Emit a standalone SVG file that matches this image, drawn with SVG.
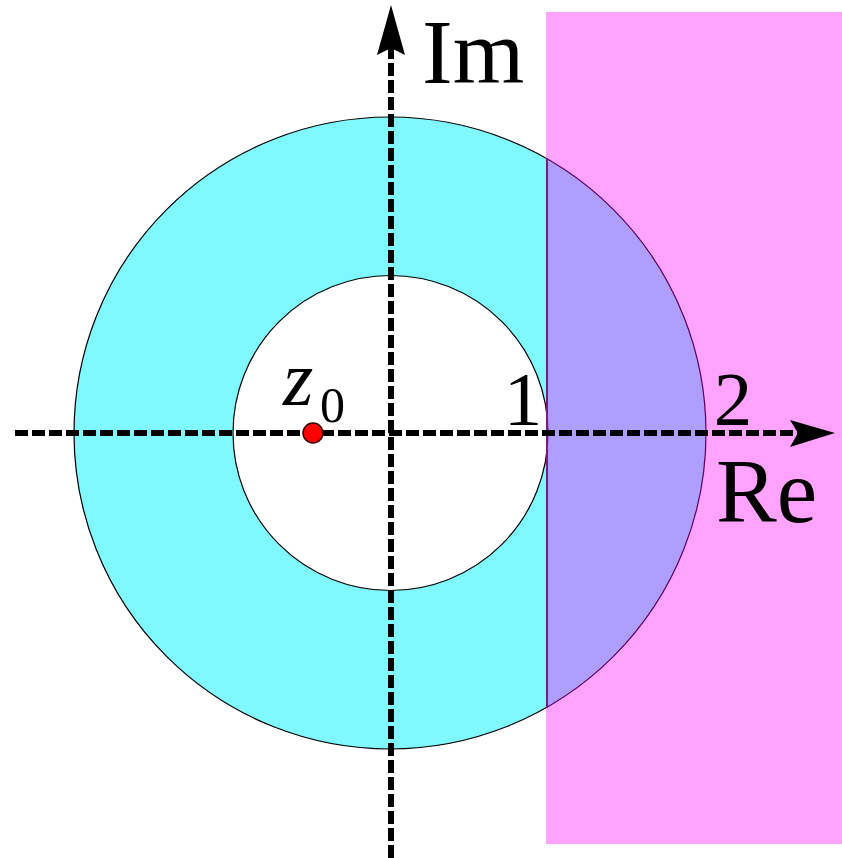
<svg xmlns="http://www.w3.org/2000/svg" width="842" height="858" viewBox="0 0 842 858">
<style>
.lbl{font-family:"Liberation Serif","Times New Roman",serif;fill:#000}
.axis{stroke:#000;stroke-width:6;fill:none}
</style>
<rect x="0" y="0" width="842" height="858" fill="#fff"/>
<g id="outer-circle"><circle cx="390" cy="433" r="316" fill="#80f8ff" stroke="#000" stroke-width="1.2"/></g>
<g id="inner-circle"><circle cx="390.5" cy="433" r="157.5" fill="#fff" stroke="#000" stroke-width="1.2"/></g>
<g id="half-plane">
<rect x="546" y="12" width="296" height="832" fill="#ff00ff" fill-opacity="0.36"/>
<line x1="547" y1="158" x2="547" y2="708" stroke="#7a1a8a" stroke-width="2"/>
</g>
<g id="connectors">
<line class="axis" x1="15" y1="433" x2="800" y2="433" stroke-dasharray="13 4"/>
<path d="M835,433 L790,420 L798,433 L790,447 Z" fill="#000"/>
<line class="axis" x1="391" y1="858" x2="391" y2="48" stroke-dasharray="13 4"/>
<path d="M391,5 L377,55 L391,48 L405,55 Z" fill="#000"/>
</g>
<g id="z0-point"><circle cx="313" cy="433" r="10" fill="#f00" stroke="#300" stroke-width="1.5"/></g>
<g id="labels">
<text class="lbl" x="422" y="83" font-size="92">Im</text>
<text class="lbl" x="716" y="522" font-size="91">Re</text>
<text class="lbl" x="523" y="425" font-size="77" text-anchor="middle">1</text>
<text class="lbl" x="733" y="425" font-size="77" text-anchor="middle">2</text>
<text class="lbl" x="283" y="405" font-size="78" font-style="italic">z</text>
<text class="lbl" x="320" y="422" font-size="50">0</text>
</g>
</svg>
